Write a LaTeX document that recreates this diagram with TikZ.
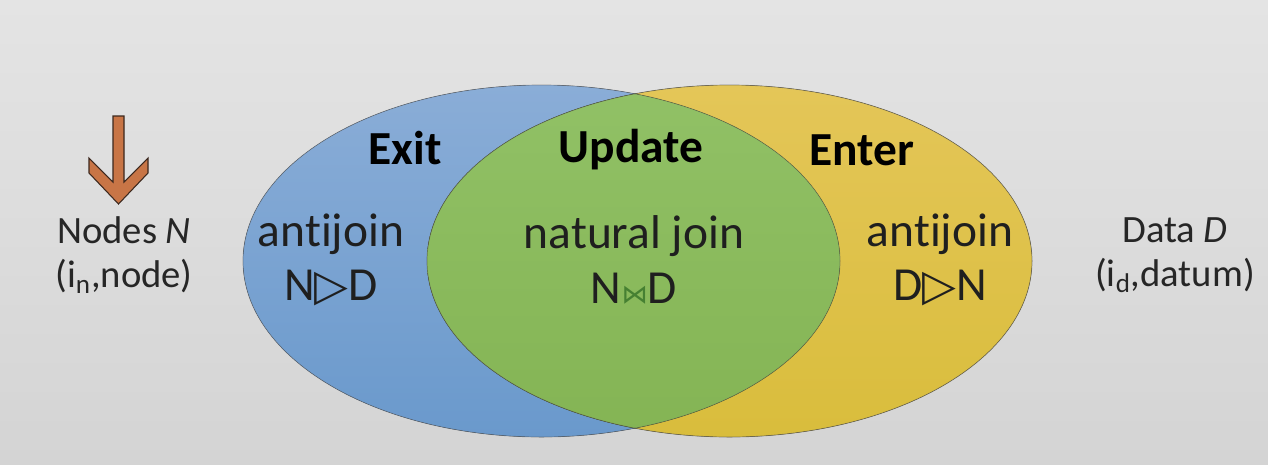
\documentclass[tikz,border=0pt]{standalone}
\usepackage{fontspec}
\setmainfont[Ligatures=NoCommon]{Carlito}
\newfontfamily\symfont{DejaVu Sans}
\definecolor{bgtop}{RGB}{228,228,228}
\definecolor{bgbottom}{RGB}{212,212,212}
\definecolor{exittop}{RGB}{138,173,215}
\definecolor{exitbottom}{RGB}{106,153,204}
\definecolor{entertop}{RGB}{228,198,88}
\definecolor{enterbottom}{RGB}{217,189,60}
\definecolor{updatetop}{RGB}{145,193,102}
\definecolor{updatebottom}{RGB}{132,180,84}
\definecolor{joingreen}{RGB}{70,128,50}
\definecolor{arrowfill}{RGB}{200,117,70}
\definecolor{arrowline}{RGB}{60,40,30}
\newcommand*{\setlabelstyle}{\fontsize{27}{31}\selectfont}
\newcommand*{\setsidestyle}{\fontsize{22}{25}\selectfont}
\newcommand*{\antijoinsym}{{\symfont\fontsize{25}{25}\selectfont ▷}}
\newcommand*{\natjoinsym}{{\symfont\fontsize{15}{15}\selectfont\color{joingreen}⋈}}

\begin{document}
\begin{tikzpicture}[x=0.02cm, y=-0.02cm,
   headtext/.style = {font=\setlabelstyle\bfseries, text=black},
   venntext/.style = {font=\setlabelstyle, align=center, text=black!88},
   sidetext/.style = {font=\setsidestyle, align=center, text=black!85}]

   % background
   \fill[top color=bgtop, bottom color=bgbottom] (0,0) rectangle (1268,464);

   % the two sets
   \fill[top color=exittop, bottom color=exitbottom]
      (541.5,261) ellipse [x radius=298.5, y radius=176];
   \fill[top color=entertop, bottom color=enterbottom]
      (729.5,261) ellipse [x radius=302.5, y radius=176];
   \begin{scope}
      \clip (729.5,261) ellipse [x radius=302.5, y radius=176];
      \fill[top color=updatetop, bottom color=updatebottom]
         (541.5,261) ellipse [x radius=298.5, y radius=176];
   \end{scope}
   \draw[black!70, opacity=0.5, thin]
      (541.5,261) ellipse [x radius=298.5, y radius=176];
   \draw[black!70, opacity=0.6, thin]
      (729.5,261) ellipse [x radius=302.5, y radius=176];

   % arrow
   \filldraw[fill=arrowfill, draw=arrowline, line width=0.6pt]
      (113,116) -- (124,116) -- (124,182) -- (148,158) -- (148,173)
      -- (118.5,204) -- (89,173) -- (89,158) -- (113,182) -- cycle;

   \node[headtext] (exit)   at (405,148) {Exit};
   \node[headtext] (update) at (631,150) {Update};
   \node[headtext] (enter)  at (862,150) {Enter};

   \node[venntext] (exitop)   at (331,260) {antijoin\\N\antijoinsym D};
   \node[venntext] (updateop) at (634,260) {natural join\\N\natjoinsym D};
   \node[venntext] (enterop)  at (940,260) {antijoin\\D\antijoinsym N};

   \node[sidetext] (nodes) at (124,255) {Nodes \textit{N}\\(i\textsubscript{n},node)};
   \node[sidetext] (data)  at (1175,255) {Data \textit{D}\\(i\textsubscript{d},datum)};

\end{tikzpicture}
\end{document}
